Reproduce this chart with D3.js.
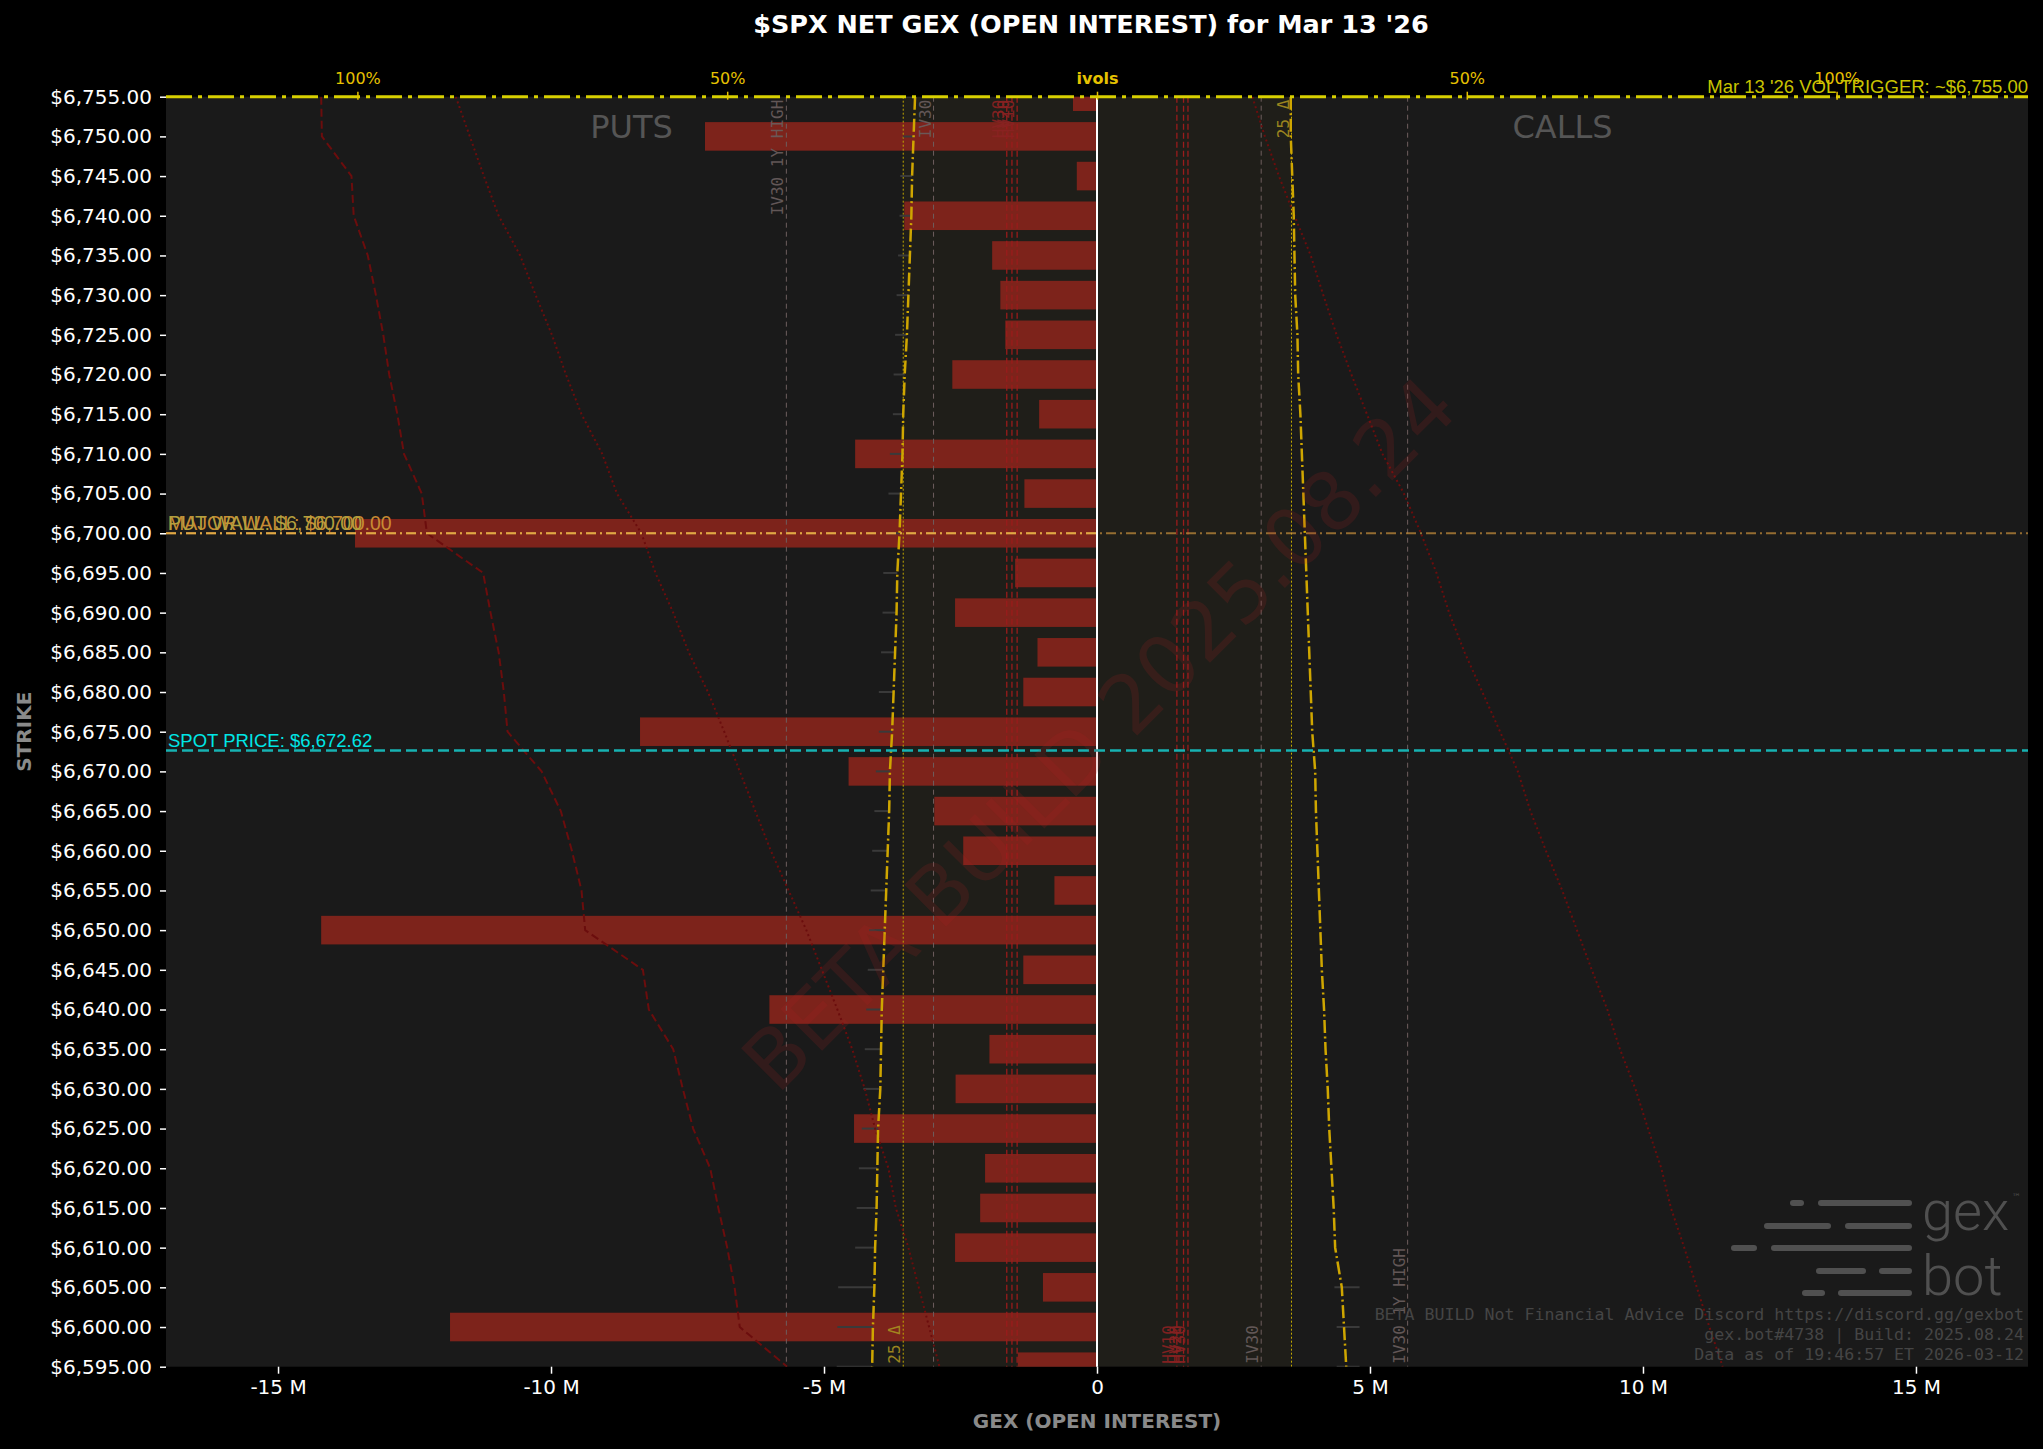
<!DOCTYPE html>
<html>
<head>
<meta charset="utf-8">
<script src="https://cdn.jsdelivr.net/npm/d3@7"></script>
<style>
  html, body { margin: 0; padding: 0; background: #000; }
</style>
</head>
<body>
<div id="chart"></div>
<script>
// strikes, top to bottom
const strikes = [6755, 6750, 6745, 6740, 6735, 6730, 6725, 6720, 6715, 6710, 6705,
  6700, 6695, 6690, 6685, 6680, 6675, 6670, 6665, 6660, 6655, 6650,
  6645, 6640, 6635, 6630, 6625, 6620, 6615, 6610, 6605, 6600, 6595];

// net gex by open interest, millions
const netGex = [-0.44, -7.18, -0.37, -3.53, -1.92, -1.77, -1.68, -2.65, -1.06, -4.43, -1.33,
  -13.59, -1.50, -2.60, -1.09, -1.35, -8.37, -4.55, -2.98, -2.45, -0.78, -14.21,
  -1.35, -6.00, -1.97, -2.59, -4.45, -2.05, -2.14, -2.60, -0.99, -11.85, -1.45];

// ivols in %, drawn on the top axis (puts to the left, calls to the right)
const putIv = [24.6, 24.8, 25.0, 25.1, 25.3, 25.5, 25.7, 26.0, 26.2, 26.3, 26.5,
  26.7, 27.0, 27.1, 27.3, 27.5, 27.7, 28.0, 28.1, 28.3, 28.5, 28.7,
  28.9, 29.1, 29.2, 29.3, 29.6, 29.7, 29.8, 30.0, 30.1, 30.3, 30.4];
const callIv = [26.2, 26.2, 26.4, 26.6, 26.7, 26.8, 27.1, 27.2, 27.5, 27.7, 27.9,
  28.1, 28.3, 28.5, 28.7, 28.9, 29.1, 29.5, 29.6, 29.8, 30.0, 30.2,
  30.4, 30.7, 30.9, 31.2, 31.4, 31.7, 32.0, 32.2, 33.1, 33.4, 33.7];
const putIvDash = [104.9, 104.8, 100.8, 100.5, 98.6, 97.5, 96.5, 95.7, 94.6, 93.7, 91.3,
  90.6, 83.0, 82.0, 80.9, 80.2, 79.7, 75.1, 72.5, 71.0, 69.7, 69.2,
  61.4, 60.6, 57.3, 56.0, 54.6, 52.3, 51.2, 50.0, 49.0, 48.3, 41.9];
const putIvDot = [86.7, 84.8, 82.9, 80.9, 78.0, 75.9, 73.7, 71.8, 69.7, 66.9, 64.9,
  61.6, 59.7, 57.3, 55.2, 52.6, 50.4, 48.3, 46.2, 44.1, 41.7, 39.3,
  37.2, 35.1, 33.1, 31.4, 30.0, 28.2, 27.2, 25.5, 24.1, 22.7, 21.3];
const callIvDot = [21.0, 22.7, 24.6, 26.7, 28.9, 30.6, 32.4, 34.4, 36.5, 38.6, 41.5,
  43.8, 45.9, 47.6, 49.7, 52.1, 54.5, 56.9, 58.6, 60.7, 62.9, 64.9,
  66.9, 69.0, 70.7, 72.8, 74.5, 76.3, 77.6, 79.4, 81.1, 82.8, 84.6];
// faint put ivol range ticks (low end, %)
const putIvTickLow = [26.0, 26.2, 26.6, 26.7, 26.9, 27.1, 27.3, 27.5, 27.6, 28.0, 28.2,
  28.5, 28.9, 29.0, 29.2, 29.5, 29.5, 29.9, 30.1, 30.4, 30.6, 30.8,
  31.0, 31.2, 31.4, 31.6, 31.8, 32.2, 32.5, 32.7, 35.0, 35.1, 35.2];
const callTickStrikes = [6605, 6600, 6595];
const callTickLow = [32.1, 32.4, 32.4];
const callTickHigh = [35.5, 35.5, 35.5];

// vertical ivol levels
const levelNames = ["IV30 1Y HIGH", "IV30", "25 Δ", "HV10", "HV20", "HV30"];
const putLevels = [42.0, 22.1, 26.2, 10.8, 11.5, 12.2];
const callLevels = [42.0, 22.2, 26.3, 10.8, 11.7, 12.3];

// horizontal levels
const spotPrice = 6672.62;
const volTrigger = 6755;
const majorWall = 6700;
const putWall = 6700;

const xTicks = [-15, -10, -5, 0, 5, 10, 15];
const ivolTicks = [-100, -50, 0, 50, 100];

const titleText = "$SPX NET GEX (OPEN INTEREST) for Mar 13 '26";
const footerLines = [
  "BETA BUILD Not Financial Advice Discord https://discord.gg/gexbot",
  "gex.bot#4738 | Build: 2025.08.24",
  "Data as of 19:46:57 ET 2026-03-12"
];

const W = 2043, H = 1449;
const margin = { top: 96.7, right: 15, bottom: 82.3, left: 166 };
const width = W - margin.left - margin.right;
const height = H - margin.top - margin.bottom;

const fmtMoney = d => "$" + d3.format(",.2f")(d);

const svg = d3.select("#chart")
  .append("svg")
  .attr("width", W)
  .attr("height", H)
  .style("background", "#000");

svg.append("text")
  .attr("x", margin.left + width / 2 - 6)
  .attr("y", 33)
  .attr("text-anchor", "middle")
  .style("font-family", "DejaVu Sans")
  .style("font-size", "25.5px")
  .style("font-weight", "bold")
  .attr("fill", "#fff")
  .text(titleText);

const g = svg.append("g")
  .attr("transform", `translate(${margin.left},${margin.top})`);

g.append("clipPath").attr("id", "plotclip")
  .append("rect").attr("width", width).attr("height", height);

// scales
const xMax = d3.max(netGex, d => Math.abs(d)) * 1.2;
const x = d3.scaleLinear().domain([-xMax, xMax]).range([0, width]);
const ivMax = d3.max(putIvDash) * 1.2;
const iv = d3.scaleLinear().domain([-ivMax, ivMax]).range([0, width]);
const y = d3.scaleLinear().domain(d3.extent(strikes)).range([height, 0]);

g.append("rect")
  .attr("width", width).attr("height", height)
  .attr("fill", "#1a1a1a");

const plot = g.append("g").attr("clip-path", "url(#plotclip)");

// shaded 25 delta band
plot.append("rect")
  .attr("x", iv(-putLevels[2]))
  .attr("width", iv(callLevels[2]) - iv(-putLevels[2]))
  .attr("y", 0).attr("height", height)
  .attr("fill", "#ffe600").attr("opacity", 0.022);

// bars
const barHalf = 1.8;
plot.selectAll("rect.bar")
  .data(strikes.map((s, i) => ({ s, v: netGex[i] })))
  .join("rect")
  .attr("class", "bar")
  .attr("x", d => x(Math.min(0, d.v)))
  .attr("width", d => Math.abs(x(d.v) - x(0)))
  .attr("y", d => y(d.s + barHalf))
  .attr("height", d => y(d.s - barHalf) - y(d.s + barHalf))
  .attr("fill", "#7d231b");

// vertical level lines
const levelStyle = {
  "IV30 1Y HIGH": { stroke: "#6e5e5e", dash: "5,4", w: 1, label: "#6a5e5e" },
  "IV30": { stroke: "#6e5e5e", dash: "5,4", w: 1, label: "#6a5e5e" },
  "25 Δ": { stroke: "#c0a800", dash: "2,2", w: 1, label: "#a89020" },
  "HV10": { stroke: "#9a1c1c", dash: "6,3", w: 1.3, label: "#8a2222" },
  "HV20": { stroke: "#9a1c1c", dash: "6,3", w: 1.3, label: "#8a2222" },
  "HV30": { stroke: "#9a1c1c", dash: "6,3", w: 1.3, label: "#8a2222" }
};
const levels = [];
levelNames.forEach((n, i) => {
  levels.push({ name: n, pos: iv(-putLevels[i]), top: n !== "25 Δ" });
  levels.push({ name: n, pos: iv(callLevels[i]), top: n === "25 Δ" });
});

plot.selectAll("line.level")
  .data(levels)
  .join("line")
  .attr("class", "level")
  .attr("x1", d => d.pos).attr("x2", d => d.pos)
  .attr("y1", 0).attr("y2", height)
  .attr("stroke", d => levelStyle[d.name].stroke)
  .attr("stroke-width", d => levelStyle[d.name].w)
  .attr("stroke-dasharray", d => levelStyle[d.name].dash);

plot.selectAll("text.level")
  .data(levels)
  .join("text")
  .attr("class", "level")
  .attr("transform", d => `translate(${d.pos - 3},${d.top ? 3 : height - 3}) rotate(-90)`)
  .attr("text-anchor", d => d.top ? "end" : "start")
  .style("font-family", "DejaVu Sans Mono")
  .style("font-size", "16px")
  .attr("fill", d => levelStyle[d.name].label)
  .attr("opacity", 0.9)
  .text(d => d.name);

// faint ivol range ticks
plot.selectAll("line.ptick")
  .data(strikes.map((s, i) => ({ s, lo: putIvTickLow[i], hi: putIv[i] })))
  .join("line")
  .attr("class", "ptick")
  .attr("x1", d => iv(-d.lo)).attr("x2", d => iv(-d.hi))
  .attr("y1", d => y(d.s)).attr("y2", d => y(d.s))
  .attr("stroke", "#3a3a3a").attr("stroke-width", 2);

plot.selectAll("line.ctick")
  .data(callTickStrikes.map((s, i) => ({ s, lo: callTickLow[i], hi: callTickHigh[i] })))
  .join("line")
  .attr("class", "ctick")
  .attr("x1", d => iv(d.lo)).attr("x2", d => iv(d.hi))
  .attr("y1", d => y(d.s)).attr("y2", d => y(d.s))
  .attr("stroke", "#3a3a3a").attr("stroke-width", 2);

// ivol curves
function curve(values, sign, stroke, dash, w) {
  const line = d3.line()
    .x(d => iv(sign * d[1]))
    .y(d => y(d[0]));
  plot.append("path")
    .datum(strikes.map((s, i) => [s, values[i]]))
    .attr("fill", "none")
    .attr("stroke", stroke)
    .attr("stroke-width", w)
    .attr("stroke-dasharray", dash)
    .attr("d", line);
}
curve(putIvDash, -1, "#6b0d0d", "8,4", 2);
curve(putIvDot, -1, "#6b0d0d", "2,3", 2);
curve(callIvDot, 1, "#6b0d0d", "2,3", 2);
curve(putIv, -1, "#cfa600", "13,3.5,2,3.5", 2.5);
curve(callIv, 1, "#cfa600", "13,3.5,2,3.5", 2.5);

// zero line
g.append("line")
  .attr("x1", x(0)).attr("x2", x(0))
  .attr("y1", 0).attr("y2", height)
  .attr("stroke", "#fff").attr("stroke-width", 2);

// walls
g.append("line")
  .attr("x1", 0).attr("x2", width)
  .attr("y1", y(majorWall)).attr("y2", y(majorWall))
  .attr("stroke", "#c8903c").attr("stroke-width", 1.8)
  .attr("opacity", 0.7)
  .attr("stroke-dasharray", "10,4,2,4");
g.append("line")
  .attr("x1", 0).attr("x2", x(0))
  .attr("y1", y(putWall)).attr("y2", y(putWall))
  .attr("stroke", "#e0a844").attr("stroke-width", 2.2)
  .attr("stroke-dasharray", "10,4,2,4");
g.append("text")
  .attr("x", 2).attr("y", y(majorWall) - 3)
  .style("font-family", "Liberation Sans").style("font-size", "19.5px")
  .attr("fill", "#c98b33")
  .text("MAJOR WALL: " + fmtMoney(majorWall));
g.append("text")
  .attr("x", 2).attr("y", y(putWall) - 3)
  .style("font-family", "Liberation Sans").style("font-size", "19.5px")
  .attr("fill", "#b4a03e")
  .text("PUT WALL: " + fmtMoney(putWall));

// spot
g.append("line")
  .attr("x1", 0).attr("x2", width)
  .attr("y1", y(spotPrice)).attr("y2", y(spotPrice))
  .attr("stroke", "#17b2b2").attr("stroke-width", 2.5)
  .attr("stroke-dasharray", "11,5");
g.append("text")
  .attr("x", 2).attr("y", y(spotPrice) - 4)
  .style("font-family", "Liberation Sans").style("font-size", "18.5px")
  .attr("fill", "#00e6e6")
  .text("SPOT PRICE: " + fmtMoney(spotPrice));

// PUTS / CALLS
g.append("text")
  .attr("x", x(-xMax / 2)).attr("y", 41)
  .attr("text-anchor", "middle")
  .style("font-family", "DejaVu Sans").style("font-size", "32px")
  .attr("fill", "#555")
  .text("PUTS");
g.append("text")
  .attr("x", x(xMax / 2)).attr("y", 41)
  .attr("text-anchor", "middle")
  .style("font-family", "DejaVu Sans").style("font-size", "32px")
  .attr("fill", "#555")
  .text("CALLS");

// watermark
g.append("text")
  .attr("transform", `translate(${width / 2 + 22},${height / 2 + 22}) rotate(-45)`)
  .attr("text-anchor", "middle")
  .style("font-family", "DejaVu Sans").style("font-size", "81px")
  .attr("fill", "#b22222").attr("opacity", 0.16)
  .text("BETA BUILD 2025.08.24");

// axes
const yAxis = g.append("g")
  .call(d3.axisLeft(y).tickValues(strikes).tickFormat(fmtMoney).tickSize(6).tickPadding(8));
yAxis.select(".domain").remove();
yAxis.selectAll("line").attr("stroke", "#fff").attr("stroke-width", 1.5);
yAxis.selectAll("text")
  .attr("fill", "#fff")
  .style("font-family", "DejaVu Sans").style("font-size", "20px");

const xAxis = g.append("g")
  .attr("transform", `translate(0,${height})`)
  .call(d3.axisBottom(x).tickValues(xTicks)
    .tickFormat(d => d === 0 ? "0" : d + " M").tickSize(7).tickPadding(6));
xAxis.select(".domain").remove();
xAxis.selectAll("line").attr("stroke", "#fff").attr("stroke-width", 1.5);
xAxis.selectAll("text")
  .attr("fill", "#fff")
  .style("font-family", "DejaVu Sans").style("font-size", "20px");

// vol trigger line along the top
g.append("line")
  .attr("x1", 0).attr("x2", width)
  .attr("y1", y(volTrigger)).attr("y2", y(volTrigger))
  .attr("stroke", "#d8d000").attr("stroke-width", 3)
  .attr("stroke-dasharray", "26,6,4,6");

const topAxis = g.append("g")
  .call(d3.axisTop(iv).tickValues(ivolTicks)
    .tickFormat(d => d === 0 ? "ivols" : Math.abs(d) + "%").tickSize(5).tickPadding(8));
topAxis.select(".domain").remove();
topAxis.selectAll("line").attr("stroke", "#e6c200").attr("stroke-width", 1.5).attr("y2", -5).attr("y1", 3);
topAxis.selectAll("text")
  .attr("fill", "#e6c200")
  .style("font-family", "DejaVu Sans").style("font-size", "16px")
  .style("font-weight", d => d === 0 ? "bold" : "normal");

g.append("text")
  .attr("x", width).attr("y", y(volTrigger) - 4)
  .attr("text-anchor", "end")
  .style("font-family", "Liberation Sans").style("font-size", "18.5px")
  .attr("fill", "#c8c400")
  .text("Mar 13 '26 VOL TRIGGER: ~" + fmtMoney(volTrigger));

// axis titles
svg.append("text")
  .attr("transform", `translate(31,${margin.top + height / 2}) rotate(-90)`)
  .attr("text-anchor", "middle")
  .style("font-family", "DejaVu Sans").style("font-size", "20px").style("font-weight", "bold")
  .attr("fill", "#8a8a8a")
  .text("STRIKE");
svg.append("text")
  .attr("x", margin.left + width / 2).attr("y", 1428)
  .attr("text-anchor", "middle")
  .style("font-family", "DejaVu Sans").style("font-size", "20px").style("font-weight", "bold")
  .attr("fill", "#8a8a8a")
  .text("GEX (OPEN INTEREST)");

// gexbot logo
const logo = svg.append("g").attr("fill", "#505050");
const stripes = [
  [1203, [[1790, 1804], [1818, 1912]]],
  [1226, [[1764, 1831], [1845, 1912]]],
  [1248, [[1731, 1757], [1771, 1912]]],
  [1271, [[1816, 1866], [1879, 1912]]],
  [1293, [[1802, 1825], [1838, 1912]]]
];
stripes.forEach(([sy, segs]) => {
  segs.forEach(([a, b]) => {
    logo.append("rect")
      .attr("x", a).attr("y", sy - 3).attr("width", b - a).attr("height", 6)
      .attr("rx", 3);
  });
});
logo.append("text").attr("x", 1922).attr("y", 1230)
  .style("font-family", "Roboto").style("font-size", "56px").style("font-weight", 300)
  .text("gex");
logo.append("text").attr("x", 1922).attr("y", 1295)
  .style("font-family", "Roboto").style("font-size", "56px").style("font-weight", 300)
  .text("bot");
logo.append("text").attr("x", 2012).attr("y", 1200)
  .style("font-family", "DejaVu Sans").style("font-size", "9px")
  .text("™");

// footer
svg.selectAll("text.footer")
  .data(footerLines)
  .join("text")
  .attr("class", "footer")
  .attr("x", 2024)
  .attr("y", (d, i) => 1320 + i * 20)
  .attr("text-anchor", "end")
  .style("font-family", "DejaVu Sans Mono").style("font-size", "16.6px")
  .attr("fill", "#454545")
  .text(d => d);
</script>
</body>
</html>
